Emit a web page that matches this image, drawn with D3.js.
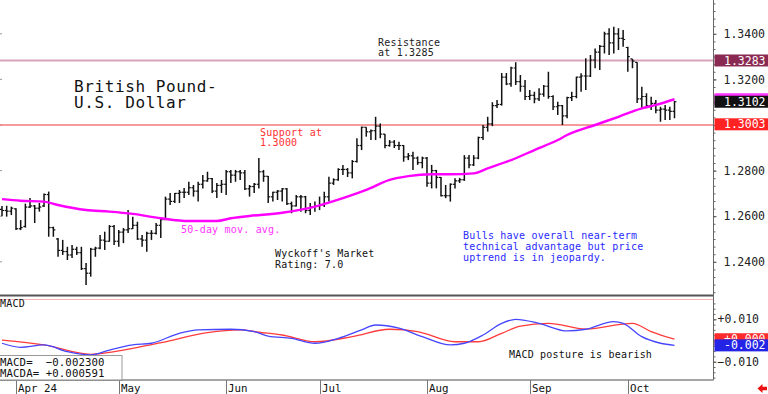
<!DOCTYPE html>
<html><head><meta charset="utf-8">
<script src="https://cdn.jsdelivr.net/npm/d3@7"></script>
<style>html,body{margin:0;padding:0;background:#fff;overflow:hidden}svg{display:block}</style>
</head><body><svg id="c" width="768" height="394"></svg>
<script>
// ---------- DATA ----------
const firstDay = "2024-03-27", lastDay = "2024-10-15";
const monthTicks  = ["2024-04-01","2024-05-01","2024-06-03","2024-07-01","2024-08-01","2024-09-02","2024-10-01"];
const monthLabels = ["Apr 24","May","Jun","Jul","Aug","Sep","Oct"];
const priceTicks = [1.24,1.26,1.28,1.30,1.32,1.34];
const macdTicks = [-0.01,0.01];

const opens = [1.2630,1.2625,1.2622,1.2632,1.2545,1.2555,1.2640,1.2645,1.2635,1.2645,
1.2695,1.2550,1.2500,1.2450,1.2445,1.2430,1.2455,1.2440,1.2370,1.2350,
1.2455,1.2460,1.2495,1.2490,1.2555,1.2490,1.2530,1.2540,1.2545,1.2560,
1.2500,1.2495,1.2525,1.2525,1.2560,1.2585,1.2675,1.2665,1.2700,1.2705,
1.2705,1.2725,1.2710,1.2740,1.2755,1.2765,1.2710,1.2735,1.2740,1.2795,
1.2780,1.2795,1.2790,1.2720,1.2730,1.2740,1.2795,1.2775,1.2685,1.2705,
1.2710,1.2720,1.2655,1.2645,1.2685,1.2685,1.2625,1.2640,1.2645,1.2650,
1.2685,1.2745,1.2760,1.2805,1.2805,1.2790,1.2840,1.2910,1.2990,1.2970,
1.2975,1.2995,1.2960,1.2910,1.2925,1.2910,1.2910,1.2860,1.2865,1.2855,
1.2835,1.2855,1.2745,1.2800,1.2770,1.2690,1.2690,1.2740,1.2755,1.2760,
1.2855,1.2825,1.2855,1.2945,1.2990,1.3005,1.3085,1.3090,1.3210,1.3180,
1.3250,1.3190,1.3170,1.3125,1.3130,1.3115,1.3135,1.3170,1.3125,1.3080,
1.3085,1.3040,1.3120,1.3125,1.3210,1.3215,1.3215,1.3285,1.3320,1.3345,
1.3400,1.3360,1.3400,1.3380,1.3340,1.3290,1.3275,1.3115,1.3125,1.3085,
1.3095,1.3065,1.3070,1.3065,1.3060];
const highs = [1.2645,1.2646,1.2642,1.2635,1.2583,1.2655,1.2680,1.2649,1.2658,1.2700,
1.2708,1.2554,1.2504,1.2496,1.2466,1.2474,1.2466,1.2466,1.2395,1.2461,
1.2466,1.2518,1.2532,1.2561,1.2561,1.2539,1.2548,1.2627,1.2598,1.2576,
1.2518,1.2532,1.2539,1.2570,1.2592,1.2686,1.2702,1.2702,1.2715,1.2724,
1.2751,1.2737,1.2751,1.2781,1.2795,1.2768,1.2746,1.2759,1.2803,1.2803,
1.2803,1.2803,1.2803,1.2737,1.2746,1.2855,1.2803,1.2776,1.2707,1.2715,
1.2724,1.2724,1.2664,1.2693,1.2693,1.2689,1.2658,1.2664,1.2686,1.2707,
1.2773,1.2766,1.2810,1.2825,1.2811,1.2846,1.2942,1.2993,1.2990,1.2980,
1.3036,1.3007,1.2960,1.2934,1.2934,1.2927,1.2912,1.2877,1.2883,1.2862,
1.2861,1.2860,1.2825,1.2803,1.2772,1.2737,1.2744,1.2766,1.2768,1.2868,
1.2868,1.2868,1.2949,1.3000,1.3036,1.3100,1.3110,1.3228,1.3228,1.3256,
1.3275,1.3219,1.3197,1.3154,1.3146,1.3161,1.3175,1.3234,1.3130,1.3102,
1.3088,1.3124,1.3146,1.3212,1.3227,1.3293,1.3307,1.3336,1.3351,1.3409,
1.3424,1.3431,1.3424,1.3417,1.3343,1.3290,1.3275,1.3168,1.3139,1.3124,
1.3110,1.3080,1.3088,1.3080,1.3105];
const lows = [1.2600,1.2598,1.2605,1.2540,1.2539,1.2550,1.2636,1.2570,1.2620,1.2640,
1.2510,1.2510,1.2422,1.2430,1.2408,1.2417,1.2430,1.2364,1.2298,1.2335,
1.2422,1.2455,1.2452,1.2488,1.2474,1.2466,1.2482,1.2526,1.2544,1.2496,
1.2466,1.2444,1.2496,1.2520,1.2504,1.2583,1.2649,1.2658,1.2658,1.2680,
1.2693,1.2686,1.2664,1.2722,1.2751,1.2702,1.2680,1.2702,1.2693,1.2746,
1.2751,1.2759,1.2715,1.2686,1.2702,1.2722,1.2751,1.2658,1.2664,1.2671,
1.2664,1.2649,1.2613,1.2642,1.2620,1.2613,1.2605,1.2620,1.2627,1.2640,
1.2664,1.2737,1.2755,1.2781,1.2772,1.2766,1.2835,1.2890,1.2949,1.2934,
1.2934,1.2942,1.2898,1.2905,1.2899,1.2890,1.2839,1.2846,1.2803,1.2825,
1.2810,1.2729,1.2722,1.2722,1.2686,1.2679,1.2664,1.2722,1.2746,1.2755,
1.2810,1.2820,1.2850,1.2934,1.2971,1.2995,1.3075,1.3085,1.3175,1.3168,
1.3175,1.3146,1.3110,1.3110,1.3095,1.3105,1.3124,1.3115,1.3066,1.3044,
1.3000,1.3030,1.3105,1.3117,1.3146,1.3154,1.3210,1.3249,1.3241,1.3314,
1.3307,1.3314,1.3329,1.3343,1.3234,1.3249,1.3096,1.3075,1.3073,1.3066,
1.3051,1.3014,1.3022,1.3022,1.3030];
const closes = [1.2625,1.2622,1.2635,1.2545,1.2550,1.2640,1.2645,1.2635,1.2640,1.2695,
1.2550,1.2540,1.2450,1.2445,1.2430,1.2455,1.2440,1.2370,1.2350,1.2455,
1.2460,1.2495,1.2490,1.2555,1.2490,1.2530,1.2540,1.2545,1.2560,1.2500,
1.2495,1.2525,1.2525,1.2560,1.2585,1.2675,1.2665,1.2700,1.2705,1.2705,
1.2725,1.2710,1.2740,1.2755,1.2765,1.2710,1.2735,1.2740,1.2795,1.2780,
1.2795,1.2790,1.2720,1.2730,1.2740,1.2795,1.2775,1.2685,1.2705,1.2710,
1.2720,1.2655,1.2645,1.2685,1.2685,1.2625,1.2640,1.2645,1.2650,1.2685,
1.2745,1.2760,1.2805,1.2805,1.2790,1.2840,1.2910,1.2990,1.2970,1.2975,
1.2995,1.2960,1.2910,1.2925,1.2910,1.2910,1.2860,1.2865,1.2855,1.2835,
1.2855,1.2745,1.2800,1.2770,1.2690,1.2690,1.2740,1.2755,1.2760,1.2855,
1.2825,1.2855,1.2945,1.2990,1.3005,1.3085,1.3090,1.3210,1.3180,1.3250,
1.3190,1.3170,1.3125,1.3130,1.3115,1.3135,1.3170,1.3125,1.3080,1.3085,
1.3040,1.3120,1.3125,1.3210,1.3215,1.3215,1.3285,1.3320,1.3345,1.3400,
1.3360,1.3400,1.3380,1.3375,1.3300,1.3280,1.3115,1.3125,1.3085,1.3095,
1.3065,1.3070,1.3065,1.3060,1.3102];

// 50-day moving average, read at selected bars (bar index -> value)
const maIdx  = [0,4,9,12,18,23,28,34,40,46,49,53,60,67,73,78,83,87,92,96,101,104,109,114,119,121,127,132,137,140,144];
const maVals = [1.2675,1.2668,1.2664,1.2649,1.2627,1.2620,1.2610,1.2591,1.2579,1.2579,1.2591,1.2601,1.2615,1.2642,1.2679,1.2715,1.2759,1.2776,1.2784,1.2784,1.2788,1.2810,1.2846,1.2890,1.2934,1.2956,1.3000,1.3036,1.3073,1.3088,1.3113];

// MACD (blue) and MACD average (red), read at selected bars
const macdIdx  = [0,4,9,14,19,23,28,32,38,42,49,54,57,62,67,72,77,80,85,90,96,99,103,107,110,115,121,125,131,133,137,141,144];
const macdVals = [-0.0013,-0.0032,-0.0021,-0.0053,-0.0068,-0.0045,-0.0021,-0.0013,0.0034,0.0050,0.0053,0.0042,0.0021,0.0010,-0.0013,0.0010,0.0050,0.0073,0.0058,0.0018,-0.0021,-0.0013,0.0026,0.0081,0.0100,0.0081,0.0045,0.0053,0.0089,0.0081,0.0018,-0.0013,-0.0023];
const sigIdx  = [0,9,19,28,35,44,51,55,60,67,75,83,89,97,102,107,111,117,125,135,139,144];
const sigVals = [0.0002,-0.0021,-0.0065,-0.0037,-0.0006,0.0037,0.0050,0.0039,0.0026,-0.0006,0.0018,0.0053,0.0042,-0.0006,-0.0006,0.0034,0.0068,0.0081,0.0054,0.0081,0.0042,0.0006];

const lastClose = 1.3102, lastMA = 1.3113, resistance = 1.3283, support = 1.3003;
const lastMacd = -0.002300, lastSig = 0.000591;

// ---------- CHART ----------
const svg = d3.select("#c");
const mono = "DejaVu Sans Mono, monospace";
const parse = d3.timeParse("%Y-%m-%d"), fmt = d3.timeFormat("%Y-%m-%d");
const dates = d3.timeDay.range(parse(firstDay), d3.timeDay.offset(parse(lastDay),1))
  .filter(d => d.getDay() !== 0 && d.getDay() !== 6).map(fmt);

const axisX = 713.5;
const x = d3.scalePoint().domain(dates).range([2, 674.5]);
const yP = d3.scaleLinear().domain([1.30, 1.34]).range([125, 33.8]);
const yM = d3.scaleLinear().domain([-0.01, 0.01]).range([361.7, 319.3]);
const truncFmt = (v, n) => (v < 0 ? "-" : "+") + (Math.floor(Math.abs(v) * Math.pow(10,n)) / Math.pow(10,n)).toFixed(n);

const defs = svg.append("defs");
defs.append("clipPath").attr("id","mainClip")
  .append("rect").attr("x",0).attr("y",0).attr("width",axisX).attr("height",294);
defs.append("clipPath").attr("id","macdClip")
  .append("rect").attr("x",0).attr("y",300).attr("width",axisX).attr("height",79);

// left small ticks
svg.selectAll(".lt").data(priceTicks).join("line")
  .attr("x1",0).attr("x2",2).attr("y1",d=>yP(d)).attr("y2",d=>yP(d))
  .attr("stroke","#999").attr("stroke-width",1);

// resistance & support lines
svg.append("line").attr("x1",0).attr("x2",axisX).attr("y1",yP(resistance)).attr("y2",yP(resistance))
  .attr("stroke","#d8a4ba").attr("stroke-width",1.8);
svg.append("line").attr("x1",0).attr("x2",axisX).attr("y1",yP(1.30)).attr("y2",yP(1.30))
  .attr("stroke","#f07a7a").attr("stroke-width",1.5);

// price bars
const main = svg.append("g").attr("clip-path","url(#mainClip)");
const bars = main.selectAll(".bar").data(dates).join("g").attr("class","bar");
bars.append("line").attr("x1",d=>x(d)).attr("x2",d=>x(d))
  .attr("y1",(d,i)=>yP(highs[i])).attr("y2",(d,i)=>yP(lows[i]))
  .attr("stroke","#111").attr("stroke-width",1.5);
bars.append("line").attr("x1",d=>x(d)-2).attr("x2",d=>x(d))
  .attr("y1",(d,i)=>yP(opens[i])).attr("y2",(d,i)=>yP(opens[i]))
  .attr("stroke","#111").attr("stroke-width",1.2);
bars.append("line").attr("x1",d=>x(d)).attr("x2",d=>x(d)+2)
  .attr("y1",(d,i)=>yP(closes[i])).attr("y2",(d,i)=>yP(closes[i]))
  .attr("stroke","#111").attr("stroke-width",1.2);

// moving average
const maLine = d3.line().x(d=>x(dates[d[0]])).y(d=>yP(d[1])).curve(d3.curveMonotoneX);
main.append("path").datum(maIdx.map((k,i)=>[k,maVals[i]]))
  .attr("d",maLine).attr("fill","none").attr("stroke","#ff00ff").attr("stroke-width",2.4);

// panel separators
svg.append("line").attr("x1",0).attr("x2",axisX).attr("y1",295.5).attr("y2",295.5)
  .attr("stroke","#555").attr("stroke-width",2);
svg.append("line").attr("x1",0).attr("x2",axisX).attr("y1",299.5).attr("y2",299.5)
  .attr("stroke","#f6b4b4").attr("stroke-width",1);

// MACD lines
const macdG = svg.append("g").attr("clip-path","url(#macdClip)");
const mLine = d3.line().x(d=>x(dates[d[0]])).y(d=>yM(d[1])).curve(d3.curveMonotoneX);
macdG.append("path").datum(sigIdx.map((k,i)=>[k,sigVals[i]]))
  .attr("d",mLine).attr("fill","none").attr("stroke","#ff3b3b").attr("stroke-width",1.3);
macdG.append("path").datum(macdIdx.map((k,i)=>[k,macdVals[i]]))
  .attr("d",mLine).attr("fill","none").attr("stroke","#4646ff").attr("stroke-width",1.3);

// right axis line
svg.append("line").attr("x1",axisX).attr("x2",axisX).attr("y1",0).attr("y2",380)
  .attr("stroke","#666").attr("stroke-width",1);

// price axis
const minorP = d3.range(0, 60).map(k => 1.22 + k*0.02/6).filter(v => yP(v) > 1 && yP(v) < 294);
svg.append("g").attr("transform",`translate(${axisX},0)`)
  .call(d3.axisRight(yP).tickValues(minorP).tickSize(2).tickFormat(""))
  .call(g=>{g.select(".domain").remove(); g.selectAll("line").attr("stroke","#666");});
svg.append("g").attr("transform",`translate(${axisX},0)`)
  .call(d3.axisRight(yP).tickValues(priceTicks).tickSize(3).tickPadding(7).tickFormat(d3.format(".4f")))
  .call(g=>{g.select(".domain").remove(); g.selectAll("line").attr("stroke","#555");
    g.selectAll("text").attr("font-family",mono).attr("font-size",11.5).attr("fill","#222");});

// MACD axis
const minorM = d3.range(-0.02, 0.02, 0.0025).filter(v => yM(v) > 301 && yM(v) < 379);
svg.append("g").attr("transform",`translate(${axisX},0)`)
  .call(d3.axisRight(yM).tickValues(minorM).tickSize(2).tickFormat(""))
  .call(g=>{g.select(".domain").remove(); g.selectAll("line").attr("stroke","#666");});
svg.append("g").attr("transform",`translate(${axisX},0)`)
  .call(d3.axisRight(yM).tickValues(macdTicks).tickSize(3).tickPadding(1).tickFormat(d3.format("+.3f")))
  .call(g=>{g.select(".domain").remove(); g.selectAll("line").attr("stroke","#555");
    g.selectAll("text").attr("font-family",mono).attr("font-size",11.5).attr("fill","#222");});

// value boxes on right axis
function valBox(yv, label, fill, color, clipBottom){
  svg.append("rect").attr("x",axisX+1).attr("y",yv-6).attr("width",768-axisX).attr("height",12).attr("fill",fill);
  if (!label) return;
  const t = svg.append("text").attr("x",724).attr("y",yv).attr("dy","0.35em").attr("font-family",mono)
    .attr("font-size",11.5).attr("fill",color).text(label);
  if (clipBottom) {
    const id = "clip" + Math.round(yv);
    defs.append("clipPath").attr("id",id).append("rect")
      .attr("x",axisX).attr("y",yv-7).attr("width",60).attr("height",clipBottom-(yv-7));
    t.attr("clip-path",`url(#${id})`);
  }
}
valBox(yP(resistance), d3.format(".4f")(resistance), "#8a2a52", "#fff");
valBox(yP(lastMA), null, "#ff33ff", "#fff");   // moving-average box, hidden behind the close box
valBox(yP(lastClose), d3.format(".4f")(lastClose), "#111", "#fff");
valBox(yP(support), d3.format(".4f")(support), "#ff2222", "#fff");
valBox(yM(lastSig), truncFmt(lastSig,3), "#ff2a2a", "#fff", yM(lastMacd)-6);
valBox(yM(lastMacd), truncFmt(lastMacd,3), "#2424e6", "#fff");

// date axis
svg.append("line").attr("x1",0).attr("x2",axisX).attr("y1",380).attr("y2",380)
  .attr("stroke","#888").attr("stroke-width",1);
svg.selectAll(".mt").data(monthTicks).join("line")
  .attr("x1",d=>Math.round(x(d))+0.5).attr("x2",d=>Math.round(x(d))+0.5).attr("y1",380).attr("y2",394)
  .attr("stroke","#777").attr("stroke-width",1);
svg.selectAll(".ml").data(monthTicks).join("text")
  .attr("x",d=>Math.round(x(d))+2).attr("y",391.5).attr("font-family",mono).attr("font-size",10.8)
  .attr("fill","#111").text((d,i)=>monthLabels[i]);

// red arrow
svg.append("path").attr("d","M757.5,388.5 L762.5,384 L762.5,386.8 L767,386.8 L767,390.2 L762.5,390.2 L762.5,393 Z")
  .attr("fill","#ee1111");

// texts
function txt(xp, yp, lines, size, color, lh, ls){
  const t = svg.append("text").attr("font-family",mono).attr("font-size",size).attr("fill",color)
    .attr("letter-spacing", ls || 0).attr("xml:space","preserve").style("white-space","pre");
  lines.forEach((s,i)=> t.append("tspan").attr("x",xp).attr("y",yp+i*lh).text(s));
}
txt(74, 91.5, ["British Pound-","U.S. Dollar"], 16, "#111", 16.8, 0.6);
txt(378, 45.5, ["Resistance","at 1.3285"], 10, "#222", 10.4, 0.2);
txt(260, 135.5, ["Support at","1.3000"], 10, "#ff3030", 10.5, 0.2);
txt(181, 232.5, ["50-day mov. avg."], 10, "#ff33ff", 10.5, 0.2);
txt(275, 257, ["Wyckoff's Market","Rating: 7.0"], 10, "#111", 11, 0.2);
txt(463, 239, ["Bulls have overall near-term","technical advantage but price","uptrend is in jeopardy."], 10, "#2a2aff", 11, 0.2);
txt(0, 307, ["MACD"], 10, "#111", 11, 0.2);
txt(509, 357.5, ["MACD posture is bearish"], 10, "#111", 11, 0.2);

// MACD value box
svg.append("rect").attr("x",-1).attr("y",355.5).attr("width",123).attr("height",25)
  .attr("fill","#fff").attr("stroke","#999").attr("stroke-width",1);
txt(0, 366, ["MACD=  " + d3.format("+.6f")(lastMacd).replace("+"," "), "MACDA= " + d3.format("+.6f")(lastSig)], 10.7, "#111", 11, 0.1);
svg.append("line").attr("x1",0).attr("x2",axisX).attr("y1",380).attr("y2",380)
  .attr("stroke","#888").attr("stroke-width",1);
</script></body></html>
